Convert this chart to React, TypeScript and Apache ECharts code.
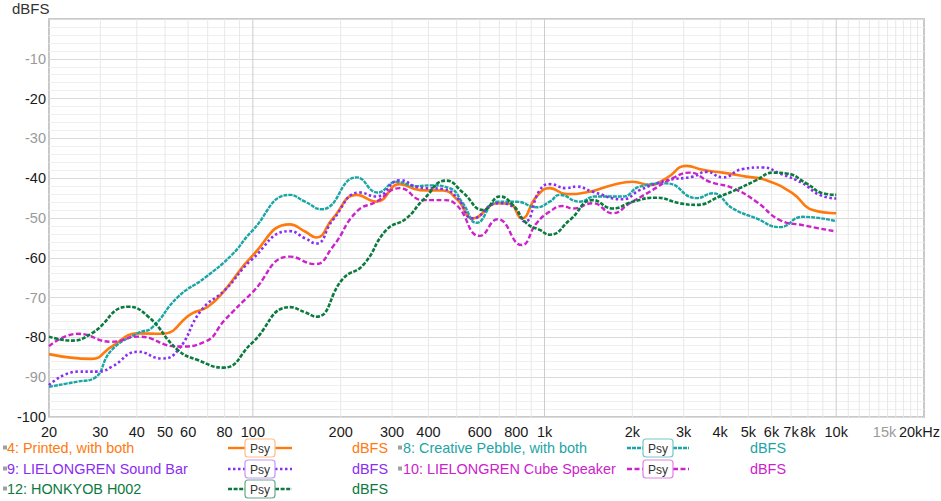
import React, { useEffect, useRef } from "react";
import * as echarts from "echarts";

// ---------- axis ticks ----------
const xTickFreqs = [20, 30, 40, 50, 60, 80, 100, 200, 300, 400, 600, 800, 1000, 2000, 3000, 4000, 5000, 6000, 7000, 8000, 10000, 15000, 20000];
const xTickLabels = ["20", "30", "40", "50", "60", "80", "100", "200", "300", "400", "600", "800", "1k", "2k", "3k", "4k", "5k", "6k", "7k", "8k", "10k", "15k", "20kHz"];
const minorGridFreqs = [30, 40, 50, 60, 70, 80, 90, 200, 300, 400, 500, 600, 700, 800, 900, 2000, 3000, 4000, 5000, 6000, 7000, 8000, 9000, 11000, 12000, 13000, 14000, 15000, 16000, 17000, 18000, 19000];
const majorGridFreqs = [100, 1000, 10000];

// ---------- series ----------
const printedFreq = [20, 28, 32.8, 40.4, 48.7, 61.7, 70.1, 80.2, 99, 134, 151, 165, 188, 227, 265, 319, 374, 448, 504, 568, 691, 760, 834, 939, 1042, 1189, 1429, 1713, 2006, 2294, 2618, 3066, 3487, 4082, 4920, 5764, 7093, 8304, 10000];
const printedDb = [-84.2, -85.4, -82.3, -79, -79.1, -74, -72.3, -68.1, -59.7, -51.6, -53.4, -54.9, -50.1, -44.2, -45.9, -41.5, -43, -43.1, -45.5, -50.1, -46.3, -46.4, -50.1, -44.6, -42.5, -44, -43.4, -41.7, -40.9, -41.7, -40, -36.9, -37.9, -38.6, -39.6, -40.5, -43.8, -48, -48.8];

const pebbleFreq = [20, 25.1, 28.5, 32.8, 40.4, 45, 55.4, 68.5, 84.6, 99, 134, 151, 172, 227, 268, 311, 364, 404, 473, 525, 585, 691, 801, 939, 1042, 1128, 1320, 1487, 1854, 2120, 2618, 3318, 3772, 4417, 5325, 6402, 7674, 10000];
const pebbleDb = [-92.4, -91.1, -90.3, -83.2, -78.9, -77.6, -69.8, -65, -59.3, -53.4, -44.2, -45.9, -47.8, -39.8, -43.6, -40.9, -42, -41.8, -42.5, -46.3, -51.2, -45.9, -45.9, -47.3, -45.9, -44.2, -45.9, -44.6, -44.6, -42.1, -41.3, -45, -43.8, -47.6, -50.1, -52.3, -49.7, -50.8];

const soundBarFreq = [20, 25.1, 29.5, 32.8, 40.4, 48.7, 55.4, 66.7, 80.2, 99, 134, 151, 165, 188, 233, 265, 319, 374, 448, 504, 568, 691, 778, 856, 963, 1042, 1189, 1286, 1463, 1854, 2120, 2618, 3221, 3589, 4082, 4777, 5598, 6402, 7674, 8775, 10000];
const soundBarDb = [-92, -88.6, -88.6, -87.4, -83.6, -85.3, -83.2, -73.1, -68.1, -60.5, -53.3, -55.1, -56.4, -50.5, -43.6, -44.6, -40.5, -42.4, -42.7, -45.1, -50.1, -46.3, -47.1, -50.9, -43, -41.5, -42.5, -42.1, -43.4, -45.3, -43, -40.6, -39.6, -38.4, -39.8, -37.7, -37.3, -38.8, -41.3, -44.2, -45.1];

const cubeFreq = [20, 25.1, 32.8, 40.4, 55.4, 68.5, 80.2, 99, 134, 163, 188, 227, 265, 319, 383, 448, 499, 600, 691, 834, 939, 1042, 1155, 1250, 1463, 1713, 1959, 2294, 2750, 3146, 3684, 4417, 5325, 6402, 7674, 10000];
const cubeDb = [-82.2, -79.1, -81.1, -79.8, -82.3, -81.1, -75.6, -68.9, -59.7, -61.6, -57.2, -48.4, -45.9, -42.5, -45.5, -45.5, -46.7, -54.5, -50.3, -56.8, -51.3, -48.4, -47, -47.6, -46.3, -48.8, -46.3, -43.4, -40, -38.6, -40.9, -42.5, -45.9, -50.5, -51.8, -53.4];

const honkyobFreq = [20, 23.9, 28, 37.4, 43.8, 55.4, 64.8, 79.1, 99, 134, 151, 165, 204, 239, 287, 336, 383, 461, 525, 616, 703, 778, 867, 963, 1042, 1221, 1463, 1713, 2006, 2418, 2908, 3318, 3986, 4667, 5325, 6072, 6750, 7902, 9008, 10000];
const honkyobDb = [-79.8, -80.8, -79, -72.3, -74.8, -83.2, -85.7, -87.6, -81.5, -72.4, -73.7, -74.8, -65.2, -61.8, -53, -50.1, -45.5, -40.6, -43.6, -48, -44.6, -46.7, -51.3, -53, -54.2, -50.5, -45.5, -47.6, -45.9, -44.9, -46.3, -46.7, -44.6, -42.5, -40.5, -38.6, -38.8, -41.3, -43.8, -44.2];

const seriesNames = ["4: Printed, with both", "8: Creative Pebble, with both", "9: LIELONGREN Sound Bar", "10: LIELONGREN Cube Speaker", "12: HONKYOB H002"];
const unitLabel = "dBFS";
const psyLabel = "Psy";

const FONT = "Arial, 'Liberation Sans', sans-serif";

const styles = [
  { color: "#ff7a0e", box: "#ffbd85", dash: "solid" as any, width: 2.6 },
  { color: "#1ba5a5", box: "#72c9c9", dash: [4, 1], width: 2.4 },
  { color: "#8b2cf2", box: "#c596f6", dash: [2.5, 2.5], width: 2.6 },
  { color: "#cc22cc", box: "#e480e4", dash: [5, 2.5], width: 2.4 },
  { color: "#0b7a3e", box: "#6aa886", dash: [4, 1.6], width: 2.6 },
];

const seriesData = [
  [printedFreq, printedDb],
  [pebbleFreq, pebbleDb],
  [soundBarFreq, soundBarDb],
  [cubeFreq, cubeDb],
  [honkyobFreq, honkyobDb],
];

// legend placement: [column, row]
const legendSlots = [
  [0, 0],
  [1, 0],
  [0, 1],
  [1, 1],
  [0, 2],
];

function buildLegend() {
  const cols = [
    { icon: 3, name: 7, lineL: 228, boxL: 245, boxR: 275, lineR: 292, unit: 352 },
    { icon: 398, name: 403, lineL: 627, boxL: 643, boxR: 673, lineR: 689, unit: 750 },
  ];
  const rowY = [448, 469, 489];
  const els: any[] = [];
  legendSlots.forEach(([c, r], i) => {
    const col = cols[c];
    const y = rowY[r];
    const st = styles[i];
    els.push({
      type: "rect",
      shape: { x: col.icon, y: y - 2.5, width: 4, height: 4 },
      style: { fill: "#a0a0a0" },
      silent: true,
    });
    els.push({
      type: "text",
      x: col.name,
      y,
      style: { text: seriesNames[i], fill: st.color, font: `14.4px ${FONT}`, verticalAlign: "middle", align: "left" },
      silent: true,
    });
    const dash = st.dash === "solid" ? null : st.dash;
    els.push({
      type: "line",
      shape: { x1: col.lineL, y1: y, x2: col.boxL, y2: y },
      style: { stroke: st.color, lineWidth: 2.4, lineDash: dash },
      silent: true,
    });
    els.push({
      type: "line",
      shape: { x1: col.boxR, y1: y, x2: col.lineR, y2: y },
      style: { stroke: st.color, lineWidth: 2.4, lineDash: dash },
      silent: true,
    });
    els.push({
      type: "rect",
      shape: { x: col.boxL, y: y - 9, width: col.boxR - col.boxL, height: 18, r: 3 },
      style: { fill: "#ffffff", stroke: st.box, lineWidth: 1.2 },
      silent: true,
    });
    els.push({
      type: "text",
      x: (col.boxL + col.boxR) / 2,
      y: y + 0.5,
      style: { text: psyLabel, fill: "#333", font: `12px ${FONT}`, align: "center", verticalAlign: "middle" },
      silent: true,
    });
    els.push({
      type: "text",
      x: col.unit,
      y,
      style: { text: unitLabel, fill: st.color, font: `14.4px ${FONT}`, verticalAlign: "middle", align: "left" },
      silent: true,
    });
  });
  els.push({
    type: "text",
    x: 12,
    y: 8,
    style: { text: unitLabel, fill: "#333", font: `15px ${FONT}`, verticalAlign: "middle", align: "left" },
    silent: true,
  });
  return els;
}

export default function App() {
  const ref = useRef<HTMLDivElement>(null);
  useEffect(() => {
    document.body.style.margin = "0";
    const chart = echarts.init(ref.current!, undefined, { renderer: "svg" });
    const gridLineSeries = (freqs: number[], color: string) => ({
      type: "custom",
      silent: true,
      z: 1,
      clip: false,
      data: freqs.map((f) => [f, -100]),
      encode: { x: 0, y: 1 },
      renderItem: (params: any, api: any) => {
        const f = api.value(0);
        const p0 = api.coord([f, -100]);
        const p1 = api.coord([f, 0]);
        return {
          type: "line",
          shape: { x1: p0[0], y1: p0[1], x2: p1[0], y2: p1[1] },
          style: { stroke: color, lineWidth: 1 },
        };
      },
    });
    const option: any = {
      animation: false,
      backgroundColor: "#ffffff",
      textStyle: { fontFamily: FONT },
      grid: {
        left: 49,
        right: 17,
        top: 19,
        bottom: 84,
        show: true,
        borderColor: "#c9c9c9",
        borderWidth: 2,
        backgroundColor: "transparent",
      },
      xAxis: {
        type: "log",
        logBase: 10,
        min: 20,
        max: 20000,
        axisLine: { show: false },
        axisTick: { show: false },
        axisLabel: { show: false },
        splitLine: { show: false },
      },
      yAxis: {
        type: "value",
        min: -100,
        max: 0,
        interval: 10,
        axisLine: { show: false },
        axisTick: { show: false },
        axisLabel: {
          margin: 3,
          fontSize: 14.5,
          fontFamily: FONT,
          formatter: (v: number) => {
            if (v === 0) return "";
            return Math.abs(v) % 20 === 0 ? `{d|${v}}` : `{g|${v}}`;
          },
          rich: {
            d: { color: "#1a1a1a", fontSize: 14.5, fontFamily: FONT },
            g: { color: "#9a9a9a", fontSize: 14.5, fontFamily: FONT },
          },
        },
        splitLine: { show: true, lineStyle: { color: "#dadada", width: 1 } },
        minorTick: { show: false, splitNumber: 5 },
        minorSplitLine: { show: true, lineStyle: { color: "#efefef", width: 1 } },
      },
      graphic: buildLegend(),
      series: [
        gridLineSeries(minorGridFreqs, "#e8e8e8"),
        gridLineSeries(majorGridFreqs, "#cccccc"),
        {
          type: "custom",
          silent: true,
          z: 1,
          clip: false,
          data: xTickFreqs.map((f) => [f, -100]),
          encode: { x: 0, y: 1 },
          renderItem: (params: any, api: any) => {
            const i = params.dataIndex;
            const p = api.coord([api.value(0), -100]);
            const label = xTickLabels[i];
            const last = i === xTickLabels.length - 1;
            return {
              type: "text",
              x: p[0] + (last ? 16 : label === "15k" ? -3 : 0),
              y: p[1] + 15,
              style: {
                text: label,
                fill: label === "15k" ? "#9a9a9a" : "#1a1a1a",
                font: `14.5px ${FONT}`,
                align: last ? "right" : "center",
                verticalAlign: "middle",
              },
            };
          },
        },
        ...seriesData.map(([freqs, dbs], i) => ({
          type: "line",
          name: seriesNames[i],
          data: freqs.map((f, k) => [f, dbs[k]]),
          smooth: 0.5,
          showSymbol: false,
          symbol: "none",
          silent: true,
          z: 3 + i,
          lineStyle: { color: styles[i].color, width: styles[i].width, type: styles[i].dash, cap: "butt" },
        })),
      ],
    };
    chart.setOption(option);
    return () => chart.dispose();
  }, []);
  return <div ref={ref} style={{ width: 941, height: 501 }} />;
}
